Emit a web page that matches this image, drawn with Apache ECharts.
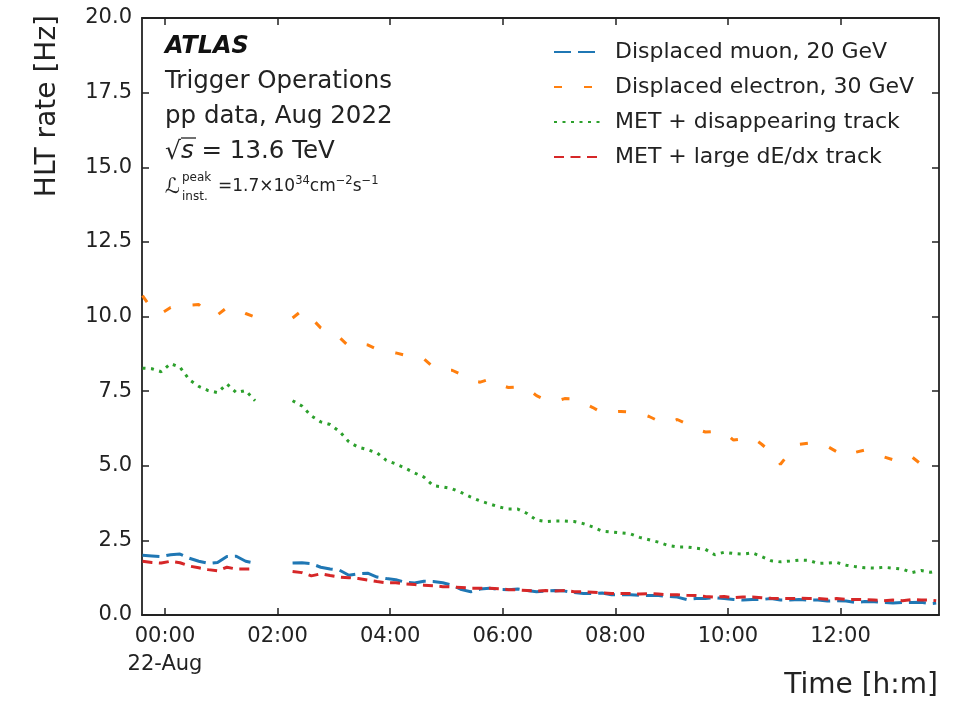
<!DOCTYPE html>
<html>
<head>
<meta charset="utf-8" />
<title>HLT rate</title>
<script src="https://cdn.jsdelivr.net/npm/echarts@6/dist/echarts.min.js"></script>
<style>
  html, body { margin: 0; padding: 0; background: #fff; }
  #main { width: 965px; height: 701px; }
</style>
</head>
<body>
<div id="main"></div>
<script>
// minutes after 00:00 on 22-Aug
var times = [-24, -14, -4, 6, 16, 26, 36, 46, 56, 66, 76, 86, 96, 106, 116, 126,
  136, 146, 156, 166, 176, 186, 196, 206, 216, 226, 236, 246, 256, 266, 276, 286,
  296, 306, 316, 326, 336, 346, 356, 366, 376, 386, 396, 406, 416, 426, 436, 446,
  456, 466, 476, 486, 496, 506, 516, 526, 536, 546, 556, 566, 576, 586, 596, 606,
  616, 626, 636, 646, 656, 666, 676, 686, 696, 706, 716, 726, 736, 746, 756, 766,
  776, 786, 796, 806, 816, 822];

var muon = [2.0, 1.98, 1.96, 2.02, 2.04, 1.9, 1.8, 1.73, 1.76, 1.96, 1.97, 1.8, 1.74, null, null, null,
  1.74, 1.75, 1.72, 1.6, 1.54, 1.5, 1.33, 1.38, 1.4, 1.27, 1.22, 1.18, 1.1, 1.07, 1.13, 1.12,
  1.08, 1.0, 0.85, 0.78, 0.87, 0.9, 0.86, 0.85, 0.87, 0.82, 0.78, 0.8, 0.82, 0.8, 0.75, 0.72,
  0.72, 0.74, 0.68, 0.68, 0.68, 0.66, 0.65, 0.65, 0.62, 0.6, 0.52, 0.55, 0.55, 0.58, 0.55, 0.52,
  0.5, 0.52, 0.52, 0.55, 0.5, 0.5, 0.52, 0.5, 0.5, 0.47, 0.48, 0.47, 0.42, 0.45, 0.44, 0.42,
  0.4, 0.42, 0.42, 0.43, 0.38, 0.4];

var electron = [10.7, 10.25, 10.1, 10.3, 10.35, 10.38, 10.4, 10.1, 10.05, 10.3, 10.25, 10.1, 9.98, null, null, null,
  9.95, 10.2, 9.95, 9.62, 9.45, 9.3, 9.0, 9.1, 9.05, 8.9, 8.85, 8.78, 8.7, 8.62, 8.58, 8.3,
  8.2, 8.2, 8.05, 7.85, 7.8, 7.9, 7.72, 7.62, 7.64, 7.6, 7.35, 7.2, 7.15, 7.25, 7.24, 7.1,
  6.95, 6.77, 6.8, 6.82, 6.8, 6.75, 6.65, 6.5, 6.43, 6.55, 6.4, 6.23, 6.13, 6.15, 6.12, 5.86,
  5.9, 5.95, 5.72, 5.45, 5.05, 5.45, 5.72, 5.76, 5.75, 5.65, 5.47, 5.32, 5.45, 5.53, 5.42, 5.3,
  5.2, 5.36, 5.3, 5.05, 4.8, 4.68];

var disTrack = [8.27, 8.25, 8.15, 8.42, 8.3, 7.88, 7.66, 7.52, 7.45, 7.74, 7.45, 7.52, 7.18, null, null, null,
  7.18, 7.0, 6.67, 6.47, 6.38, 6.15, 5.8, 5.62, 5.54, 5.43, 5.18, 5.06, 4.92, 4.76, 4.62, 4.33,
  4.29, 4.23, 4.1, 3.95, 3.82, 3.72, 3.62, 3.55, 3.55, 3.4, 3.18, 3.13, 3.15, 3.15, 3.13, 3.06,
  2.95, 2.81, 2.78, 2.75, 2.72, 2.6, 2.52, 2.44, 2.33, 2.28, 2.28, 2.24, 2.2, 2.02, 2.1, 2.06,
  2.04, 2.08, 1.96, 1.82, 1.78, 1.81, 1.84, 1.83, 1.73, 1.74, 1.76, 1.67, 1.62, 1.58, 1.57, 1.6,
  1.57, 1.54, 1.42, 1.49, 1.43, 1.47];

var dedx = [1.8, 1.76, 1.74, 1.8, 1.75, 1.64, 1.58, 1.52, 1.48, 1.6, 1.54, 1.54, 1.54, null, null, null,
  1.46, 1.42, 1.31, 1.38, 1.32, 1.27, 1.25, 1.22, 1.17, 1.12, 1.08, 1.08, 1.04, 1.02, 1.0, 0.98,
  0.95, 0.94, 0.92, 0.9, 0.9, 0.9, 0.88, 0.85, 0.84, 0.82, 0.8, 0.82, 0.8, 0.82, 0.78, 0.78,
  0.76, 0.74, 0.72, 0.72, 0.72, 0.7, 0.72, 0.7, 0.68, 0.68, 0.66, 0.65, 0.62, 0.6, 0.62, 0.58,
  0.6, 0.6, 0.58, 0.56, 0.55, 0.55, 0.56, 0.55, 0.55, 0.53, 0.55, 0.52, 0.52, 0.52, 0.5, 0.48,
  0.5, 0.48, 0.52, 0.5, 0.5, 0.48];

var seriesNames = ['Displaced muon, 20 GeV', 'Displaced electron, 30 GeV',
  'MET + disappearing track', 'MET + large dE/dx track'];
var hourTicks = [0, 120, 240, 360, 480, 600, 720];

function pairs(vals) {
  return times.map(function (t, i) { return [t, vals[i] === null ? '-' : vals[i]]; });
}
function fmtTime(v) {
  var h = Math.round(v / 60);
  var s = (h < 10 ? '0' : '') + h + ':00';
  return v === 0 ? s + '\n22-Aug' : s;
}

var font = 'DejaVu Sans';
var ink = '#222';
var myChart = echarts.init(document.getElementById('main'));

function line(name, vals, color, dash) {
  return {
    name: name, type: 'line', data: pairs(vals),
    showSymbol: false, symbol: 'none', connectNulls: false,
    lineStyle: { color: color, width: 3, type: dash },
    itemStyle: { color: color },
    xAxisIndex: 0, yAxisIndex: 0
  };
}

var axisLineStyle = { show: true, onZero: false, lineStyle: { color: ink, width: 1.8 } };
var tickStyle = { color: ink, width: 1.5 };

var option = {
  animation: false,
  backgroundColor: '#fff',
  grid: { left: 142, right: 26, top: 18, bottom: 86 },
  legend: {
    orient: 'vertical', left: 548, top: 35,
    itemWidth: 46, itemHeight: 14, itemGap: 11,
    data: seriesNames,
    itemStyle: { opacity: 0, borderWidth: 0 },
    textStyle: { fontFamily: font, fontSize: 22, color: ink, lineHeight: 24, padding: [0, 0, 0, 10] }
  },
  xAxis: [{
    type: 'value', min: -24.5, max: 825, position: 'bottom',
    axisLine: axisLineStyle,
    axisTick: { inside: true, length: 7, customValues: hourTicks, lineStyle: tickStyle },
    axisLabel: { customValues: hourTicks, formatter: fmtTime, fontFamily: font, fontSize: 21,
      color: ink, margin: 8, lineHeight: 28 },
    splitLine: { show: false }
  }, {
    type: 'value', min: -24.5, max: 825, position: 'top',
    axisLine: axisLineStyle,
    axisTick: { inside: true, length: 7, customValues: hourTicks, lineStyle: tickStyle },
    axisLabel: { show: false },
    splitLine: { show: false }
  }],
  yAxis: [{
    type: 'value', min: 0, max: 20, interval: 2.5, position: 'left',
    axisLine: axisLineStyle,
    axisTick: { inside: true, length: 7, lineStyle: tickStyle },
    axisLabel: { formatter: function (v) { return v.toFixed(1); }, fontFamily: font,
      fontSize: 21, color: ink, margin: 10 },
    splitLine: { show: false }
  }, {
    type: 'value', min: 0, max: 20, interval: 2.5, position: 'right',
    axisLine: axisLineStyle,
    axisTick: { inside: true, length: 7, lineStyle: tickStyle },
    axisLabel: { show: false },
    splitLine: { show: false }
  }],
  series: [
    line(seriesNames[0], muon, '#1f77b4', [17, 7]),
    line(seriesNames[1], electron, '#ff7f0e', [8, 22]),
    line(seriesNames[2], disTrack, '#2ca02c', [3, 5.5]),
    line(seriesNames[3], dedx, '#d62728', [10, 6.5])
  ],
  graphic: [
    { type: 'text', x: 165, y: 47, style: { text: 'ATLAS', font: 'italic bold 24px DejaVu Sans',
      fill: '#111', verticalAlign: 'middle' } },
    { type: 'text', x: 165, y: 82, style: { text: 'Trigger Operations', font: '24.5px DejaVu Sans',
      fill: ink, verticalAlign: 'middle' } },
    { type: 'text', x: 165, y: 117, style: { text: 'pp data, Aug 2022', font: '24.5px DejaVu Sans',
      fill: ink, verticalAlign: 'middle' } },
    { type: 'text', x: 165, y: 152, style: {
      text: '{r|√}{s|s}{t| = 13.6 TeV}', verticalAlign: 'middle', fill: ink,
      rich: {
        r: { fontFamily: font, fontSize: 25, fill: ink },
        s: { fontFamily: font, fontSize: 24.5, fontStyle: 'italic', fill: ink },
        t: { fontFamily: font, fontSize: 24.5, fill: ink }
      } } },
    { type: 'line', shape: { x1: 181, y1: 138, x2: 196, y2: 138 }, style: { stroke: ink, lineWidth: 1.3 } },
    { type: 'text', x: 165, y: 188, style: { text: 'ℒ', font: 'italic 21px DejaVu Sans',
      fill: ink, verticalAlign: 'middle' } },
    { type: 'text', x: 182, y: 178, style: { text: 'peak', font: '12px DejaVu Sans',
      fill: ink, verticalAlign: 'middle' } },
    { type: 'text', x: 182, y: 197, style: { text: 'inst.', font: '12px DejaVu Sans',
      fill: ink, verticalAlign: 'middle' } },
    { type: 'text', x: 218, y: 185, style: {
      text: '{m|=1.7×10}{p|34}{m|cm}{p|−2}{m|s}{p|−1}', verticalAlign: 'middle', fill: ink,
      rich: {
        m: { fontFamily: font, fontSize: 17, fill: ink, lineHeight: 20, verticalAlign: 'bottom' },
        p: { fontFamily: font, fontSize: 11.5, fill: ink, lineHeight: 20, verticalAlign: 'top' }
      } } },
    { type: 'text', x: 48, y: 15, rotation: Math.PI / 2, style: { text: 'HLT rate [Hz]',
      font: '28px DejaVu Sans', fill: ink, align: 'right', verticalAlign: 'middle' } },
    { type: 'text', x: 938, y: 686, style: { text: 'Time [h:m]', font: '28px DejaVu Sans',
      fill: ink, align: 'right', verticalAlign: 'middle' } }
  ]
};
myChart.setOption(option);
</script>
</body>
</html>
